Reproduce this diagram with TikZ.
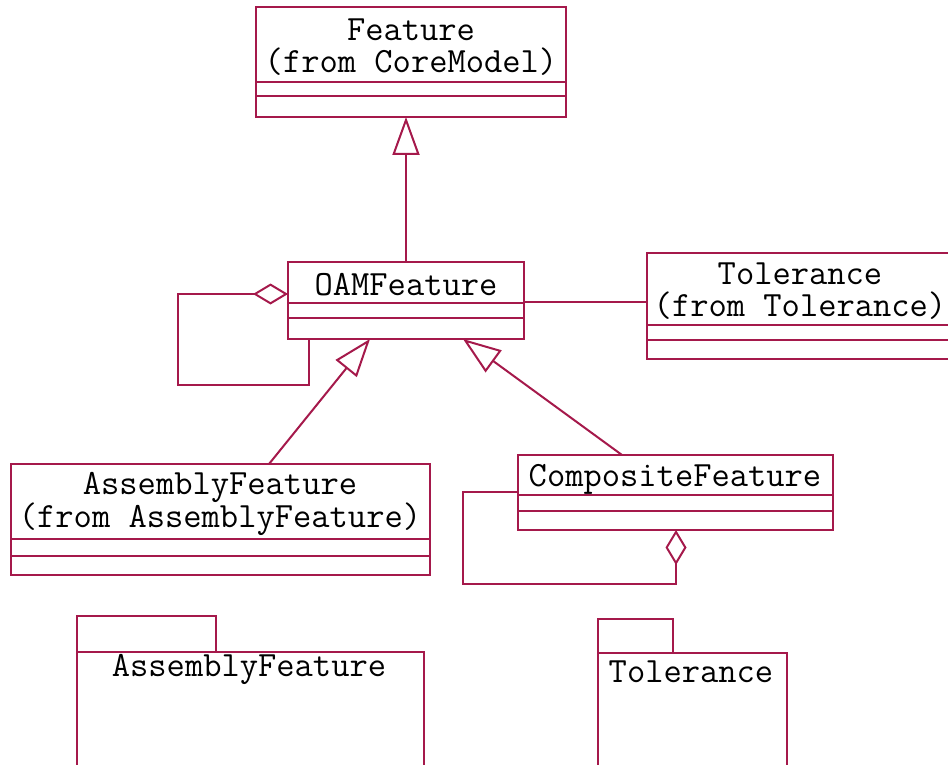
\documentclass[tikz,border=0pt]{standalone}
\usepackage{fontspec}
\usetikzlibrary{arrows.meta,fit}
\definecolor{umlred}{RGB}{165,25,75}

\begin{document}
\begin{tikzpicture}[x=1pt,y=-1pt,line width=2pt,
    umlbox/.style={draw=umlred, inner sep=0pt, outer sep=0pt},
    umlline/.style={draw=umlred},
    umltext/.style={font=\fontsize{35.5}{32}\selectfont\ttfamily, align=center, inner sep=0pt},
    gen/.style={umlline, -{Triangle[open, length=38pt, width=27pt]}},
    agg/.style={umlline, -{Diamond[open, length=35pt, width=21pt]}}]
  \useasboundingbox (0,0) rectangle (948,765);

  \node[umlbox, fit={(256,7) (566,117)}] (feature) {};
  \node[umltext] (featurename) at (411,47) {Feature\\(from CoreModel)};
  \draw[umlline] (feature.west |- 0,82) -- (feature.east |- 0,82);
  \draw[umlline] (feature.west |- 0,96) -- (feature.east |- 0,96);

  \node[umlbox, fit={(288,262) (524,339)}] (oam) {};
  \node[umltext] (oamname) at (406,285) {OAMFeature};
  \draw[umlline] (oam.west |- 0,303) -- (oam.east |- 0,303);
  \draw[umlline] (oam.west |- 0,318) -- (oam.east |- 0,318);

  \node[umlbox, fit={(647,253) (952,359)}] (tol) {};
  \node[umltext] (tolname) at (800,291) {Tolerance\\(from Tolerance)};
  \draw[umlline] (tol.west |- 0,325) -- (tol.east |- 0,325);
  \draw[umlline] (tol.west |- 0,340) -- (tol.east |- 0,340);

  \node[umlbox, fit={(11,464) (430,575)}] (asm) {};
  \node[umltext] (asmname) at (220,504) {AssemblyFeature\\(from AssemblyFeature)};
  \draw[umlline] (asm.west |- 0,539) -- (asm.east |- 0,539);
  \draw[umlline] (asm.west |- 0,556) -- (asm.east |- 0,556);

  \node[umlbox, fit={(518,455) (833,530)}] (comp) {};
  \node[umltext] (compname) at (675,479) {CompositeFeature};
  \draw[umlline] (comp.west |- 0,495) -- (comp.east |- 0,495);
  \draw[umlline] (comp.west |- 0,511) -- (comp.east |- 0,511);

  \node[umlbox, fit={(77,616) (216,652)}] (asmtab) {};
  \node[umlbox, fit={(77,652) (424,772)}] (asmpkg) {};
  \node[umltext] (asmpkgname) at (249,669) {AssemblyFeature};

  \node[umlbox, fit={(598,619) (673,653)}] (toltab) {};
  \node[umlbox, fit={(598,653) (787,772)}] (tolpkg) {};
  \node[umltext] (tolpkgname) at (691,672) {Tolerance};

  \draw[gen] (oam.north) -- (oam.north |- feature.south);
  \draw[gen] (asm.north -| 269,0) -- (oam.south -| 370,0);
  \draw[gen] (comp.north -| 622,0) -- (oam.south -| 463,0);
  \draw[umlline] (oam.east |- 0,302) -- (tol.west |- 0,302);
  \draw[agg] (oam.south -| 309,0) -- (309,385) -- (178,385) -- (178,294) -- (oam.west |- 0,294);
  \draw[agg] (comp.west |- 0,492) -- (463,492) -- (463,584) -- (676,584) -- (comp.south -| 676,0);
\end{tikzpicture}
\end{document}
